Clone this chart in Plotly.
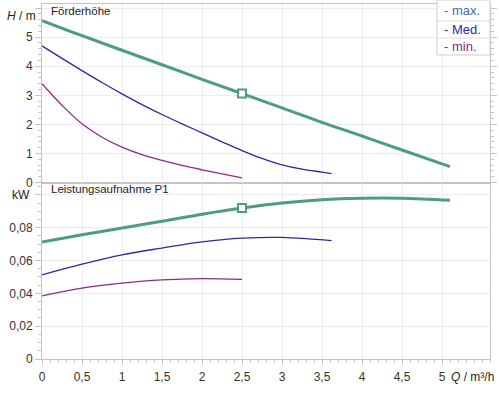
import plotly.graph_objects as go

# Förderhöhe H (m) über Volumenstrom Q (m³/h)
q_max = [0, 0.5, 1, 1.5, 2, 2.5, 3, 3.5, 4, 4.5, 5.1]
h_max = [5.57, 5.05, 4.55, 4.05, 3.55, 3.06, 2.57, 2.07, 1.6, 1.12, 0.55]

q_med = [0, 0.25, 0.5, 0.75, 1, 1.25, 1.5, 1.75, 2, 2.25, 2.5, 2.75, 3, 3.25, 3.5, 3.62]
h_med = [4.70, 4.27, 3.85, 3.44, 3.05, 2.68, 2.34, 2.02, 1.71, 1.40, 1.10, 0.83, 0.61, 0.46, 0.36, 0.31]

q_min = [0, 0.25, 0.5, 0.75, 1, 1.25, 1.5, 1.75, 2, 2.25, 2.5]
h_min = [3.40, 2.66, 2.02, 1.56, 1.22, 0.96, 0.76, 0.59, 0.44, 0.30, 0.16]

# Leistungsaufnahme P1 (kW)
qp_max = [0, 0.5, 1, 1.5, 2, 2.5, 3, 3.5, 4, 4.5, 5.1]
p_max = [0.0713, 0.0757, 0.0798, 0.0839, 0.0882, 0.0920, 0.0951, 0.0971, 0.0980, 0.0980, 0.0967]

qp_med = [0, 0.5, 1, 1.5, 2, 2.5, 3, 3.62]
p_med = [0.0513, 0.0578, 0.0635, 0.0676, 0.0713, 0.0736, 0.0741, 0.0721]

qp_min = [0, 0.5, 1, 1.5, 2, 2.5]
p_min = [0.0385, 0.0432, 0.0462, 0.0482, 0.0490, 0.0485]

# Betriebspunkt
op_q = [2.5]
op_h = [3.06]
op_p = [0.0920]

x_ticks = [0, 0.5, 1, 1.5, 2, 2.5, 3, 3.5, 4, 4.5, 5]
x_labels = ["0", "0,5", "1", "1,5", "2", "2,5", "3", "3,5", "4", "4,5", "5"]
h_ticks = [0, 1, 2, 3, 4, 5, 6]
h_labels = ["0", "1", "2", "3", "4", "5", ""]
p_ticks = [0, 0.02, 0.04, 0.06, 0.08, 0.1]
p_labels = ["0", "0,02", "0,04", "0,06", "0,08", ""]

legend_names = ["- max.", "- Med.", "- min."]
legend_colors = ["#3d6db3", "#2b2aa0", "#8b2a86"]

GREEN = "#4c9e7e"
BLUE = "#2b2aa6"
PURPLE = "#8e2a88"
AXIS = "#c4c4c4"
GRID = "#ececec"
FONT = "Liberation Sans, Arial, sans-serif"

fig = go.Figure()

curves = [
    (q_max, h_max, qp_max, p_max, GREEN, 3),
    (q_med, h_med, qp_med, p_med, BLUE, 1.3),
    (q_min, h_min, qp_min, p_min, PURPLE, 1.3),
]
for q, h, qp, p, color, width in curves:
    fig.add_trace(go.Scatter(x=q, y=h, mode="lines", line=dict(color=color, width=width, shape="spline"),
                             xaxis="x2", yaxis="y", showlegend=False))
    fig.add_trace(go.Scatter(x=qp, y=p, mode="lines", line=dict(color=color, width=width, shape="spline"),
                             xaxis="x", yaxis="y2", showlegend=False))

marker = dict(symbol="square", size=8, color="white", line=dict(width=2, color=GREEN))
fig.add_trace(go.Scatter(x=op_q, y=op_h, mode="markers", marker=marker, xaxis="x2", yaxis="y", showlegend=False))
fig.add_trace(go.Scatter(x=op_q, y=op_p, mode="markers", marker=marker, xaxis="x", yaxis="y2", showlegend=False))

common = dict(showline=True, linecolor=AXIS, linewidth=1, gridcolor=GRID, zeroline=False, automargin=False,
              tickcolor=AXIS, tickfont=dict(size=12, color="#333333", family=FONT))

fig.update_layout(
    width=499, height=400,
    margin=dict(l=42, r=9, t=4, b=41),
    paper_bgcolor="white", plot_bgcolor="white",
    font=dict(family=FONT, color="#222222"),
    separators=", ",
    xaxis=dict(common, anchor="y2", range=[0, 5.6], tickvals=x_ticks, ticktext=x_labels,
               ticks="outside", ticklen=5, mirror=True, ticklabelstandoff=2,
               minor=dict(ticks="outside", dtick=0.1, ticklen=3, tickcolor=AXIS, showgrid=False)),
    xaxis2=dict(common, anchor="y", matches="x", range=[0, 5.6], tickvals=x_ticks, showticklabels=False,
                ticks="", mirror=True),
    yaxis=dict(common, domain=[0.497, 1], range=[0, 6.14], tickvals=h_ticks, ticktext=h_labels,
               ticks="outside", ticklen=6, mirror="ticks",
               minor=dict(ticks="outside", dtick=0.2, ticklen=3, tickcolor=AXIS, showgrid=False)),
    yaxis2=dict(common, domain=[0, 0.497], range=[0, 0.1075], tickvals=p_ticks, ticktext=p_labels,
                ticks="outside", ticklen=6, mirror=True,
                minor=dict(ticks="outside", dtick=0.005, ticklen=3, tickcolor=AXIS, showgrid=False)),
)

# Beschriftungen
texts = [
    ("<i>H</i> / m", -0.083, 0.966, 12),
    ("kW", -0.072, 0.462, 12),
    ("Förderhöhe", 0.016, 0.980, 11.5),
    ("Leistungsaufnahme P1", 0.016, 0.479, 11.5),
    ("<i>Q</i> / m³/h", 0.9085, -0.051, 12),
]
for t, x, y, size in texts:
    fig.add_annotation(text=t, x=x, y=y, xref="paper", yref="paper", xanchor="left", yanchor="middle",
                       showarrow=False, font=dict(size=size, color="#222222", family=FONT))

# Legendenkasten oben rechts
box_x0, box_x1 = 0.8817, 1.0
row_edges = [1.0113, 0.9521, 0.9042, 0.8563]
fig.add_shape(type="rect", xref="paper", yref="paper", x0=box_x0, x1=box_x1, y0=row_edges[-1], y1=row_edges[0],
              line=dict(color="#cfcfcf", width=1), fillcolor="white", layer="above")
for ye in row_edges[1:-1]:
    fig.add_shape(type="line", xref="paper", yref="paper", x0=box_x0, x1=box_x1, y0=ye, y1=ye,
                  line=dict(color="#dcdcdc", width=1), layer="above")
for i, (name, color) in enumerate(zip(legend_names, legend_colors)):
    fig.add_annotation(text=name, x=box_x0 + 0.012, y=(row_edges[i] + row_edges[i + 1]) / 2,
                       xref="paper", yref="paper", xanchor="left", yanchor="middle", showarrow=False,
                       font=dict(size=13, color=color, family=FONT))

# Seitenrand des Browsers entfernen, damit die Grafik bei (0, 0) beginnt
fig.write_html("out.html", config={"displayModeBar": False},
               post_script="document.body.style.margin='0';")
